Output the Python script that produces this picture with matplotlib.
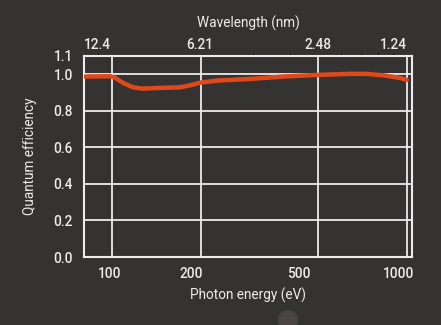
import matplotlib
matplotlib.use("Agg")
import matplotlib.pyplot as plt
from matplotlib.transforms import ScaledTranslation
from matplotlib.patches import Circle

# --- data ---
energy_ev = [81, 98, 102, 106, 110, 118, 127, 145, 170, 184, 199, 227,
             293, 380, 495, 641, 729, 830, 946, 1000]
quantum_eff = [0.987, 0.989, 0.983, 0.965, 0.949, 0.928, 0.921, 0.925,
               0.928, 0.939, 0.954, 0.965, 0.974, 0.987, 0.996, 1.002,
               1.002, 0.994, 0.980, 0.969]

x_ticks = [100, 200, 500, 1000]
x_labels = ["100", "200", "500", "1000"]
wl_labels = ["12.4", "6.21", "2.48", "1.24"]
y_ticks = [0.0, 0.2, 0.4, 0.6, 0.8, 1.0, 1.1]
y_labels = ["0.0", "0.2", "0.4", "0.6", "0.8", "1.0", "1.1"]

bg = "#353331"
fg = "#ececec"
line_col = "#e0481a"
fs = 9.8

plt.rcParams['font.family'] = ['Roboto', 'DejaVu Sans']
plt.rcParams['font.weight'] = 'medium'

fig = plt.figure(figsize=(4.41, 3.25), dpi=100, facecolor=bg)
ax = fig.add_axes([0.1905, 0.209, 0.7435, 0.619], facecolor=bg)

ax.set_xscale("log")
ax.set_xlim(80.4, 1040)
ax.set_ylim(0, 1.1)

ax.plot(energy_ev, quantum_eff, color=line_col, lw=3.2,
        solid_capstyle="round", solid_joinstyle="round", zorder=3)

# grid
for xv in x_ticks:
    ax.axvline(xv, color=fg, lw=1.3, zorder=1)
for yv in y_ticks[1:-1]:
    ax.axhline(yv, color=fg, lw=1.3, zorder=1)
for s in ax.spines.values():
    s.set_color(fg)
    s.set_linewidth(1.5)

ax.set_xticks(x_ticks)
ax.set_xticklabels(x_labels)
ax.minorticks_off()
ax.set_yticks(y_ticks)
ax.set_yticklabels(y_labels)
ax.tick_params(axis="both", length=0, colors=fg, labelsize=fs)
ax.tick_params(axis="x", pad=7)
ax.tick_params(axis="y", pad=8)

# nudge bottom labels like in the reference
bottom_dx = [-2, -9, -19, -8]
for lab, dx in zip(ax.get_xticklabels(), bottom_dx):
    lab.set_transform(lab.get_transform() + ScaledTranslation(dx / 100, 0, fig.dpi_scale_trans))

# top axis: wavelength
top = ax.secondary_xaxis("top")
top.set_xticks(x_ticks)
top.set_xticklabels(wl_labels)
top.tick_params(length=0, colors=fg, labelsize=fs, pad=3)
top.spines["top"].set_visible(False)
top_dx = [-15, -1, 0, -13]
for lab, dx in zip(top.get_xticklabels(), top_dx):
    lab.set_transform(lab.get_transform() + ScaledTranslation(dx / 100, 0, fig.dpi_scale_trans))
top.set_xlabel("Wavelength (nm)", color=fg, fontsize=fs, labelpad=7)

ax.set_xlabel("Photon energy (eV)", color=fg, fontsize=fs, labelpad=5)
ax.set_ylabel("Quantum efficiency", color=fg, fontsize=fs, labelpad=12)

# faint dot at the bottom of the image
fig.patches.append(Circle((2.88, 3.25 - 3.20), 0.10, transform=fig.dpi_scale_trans,
                          facecolor="#474443", edgecolor="none"))

fig.savefig("out.png", dpi=100, facecolor=bg)
